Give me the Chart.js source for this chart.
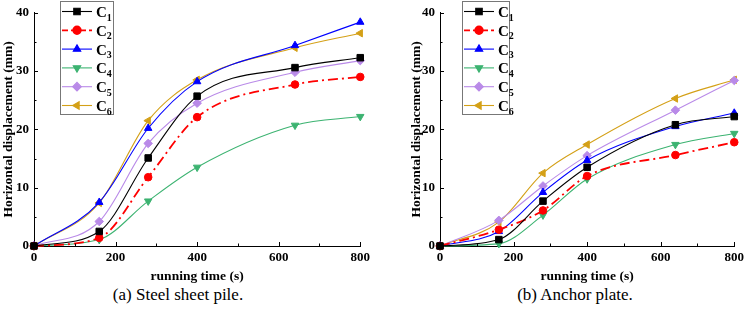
<!DOCTYPE html>
<html>
<head>
<meta charset="utf-8">
<script src="https://cdn.jsdelivr.net/npm/chart.js@4.4.0/dist/chart.umd.min.js"></script>
<style>
  body { margin: 0; background: #fff; width: 748px; height: 316px; position: relative; overflow: hidden; }
  .panel { position: absolute; top: 0; width: 374px; height: 284px; }
  .cap { position: absolute; top: 284px; font: 17px "Liberation Serif", serif; line-height: 22px; color: #000; white-space: nowrap; transform: translateX(-50%); }
</style>
</head>
<body>
<div class="panel" style="left:0"><canvas id="chartA" width="374" height="284"></canvas></div>
<div class="panel" style="left:374px"><canvas id="chartB" width="374" height="284"></canvas></div>
<div class="cap" style="left:178px">(a) Steel sheet pile.</div>
<div class="cap" style="left:575px">(b) Anchor plate.</div>
<script>
// running time (s)
const times = [0, 160, 280, 400, 640, 800];
const seriesNames = ["1", "2", "3", "4", "5", "6"];
const xTicks = [0, 200, 400, 600, 800];
const yTicks = [0, 10, 20, 30, 40];

// (a) steel sheet pile, horizontal displacement (mm)
const steelC1 = [0, 2.5, 15.1, 25.7, 30.6, 32.3];
const steelC2 = [0, 1.4, 11.8, 22.1, 27.7, 29.0];
const steelC3 = [0, 7.5, 20.2, 28.2, 34.4, 38.4];
const steelC4 = [0, 1.1, 7.7, 13.5, 20.7, 22.2];
const steelC5 = [0, 4.2, 17.6, 24.5, 29.8, 31.8];
const steelC6 = [0, 7.4, 21.5, 28.5, 34.0, 36.5];

// (b) anchor plate
const anchorC1 = [0, 1.1, 7.7, 13.5, 20.8, 22.2];
const anchorC2 = [0, 2.8, 6.1, 12.0, 15.6, 17.8];
const anchorC3 = [0, 2.5, 9.2, 14.7, 20.5, 22.8];
const anchorC4 = [0, 0.4, 5.3, 11.5, 17.4, 19.3];
const anchorC5 = [0, 4.4, 10.3, 15.5, 23.3, 28.4];
const anchorC6 = [0, 4.1, 12.5, 17.4, 25.3, 28.5];

const colors = ["#000000", "#ff0000", "#0000ff", "#3cb371", "#b98ae8", "#d4a017"];
const markers = ["rect", "circle", "triangle", "triangle", "rectRot", "triangle"];
const markerRot = [0, 0, 0, 180, 0, -90];
const markerSize = [4.6, 3.8, 4.3, 4.3, 4.3, 4.3];

const serif = "'Liberation Serif', 'Times New Roman', serif";

function makeSets(arrs) {
  return arrs.map((vals, i) => ({
    label: "C" + seriesNames[i],
    data: vals.map((v, j) => ({ x: times[j], y: v })),
    borderColor: colors[i],
    backgroundColor: colors[i],
    borderWidth: i === 1 ? 1.8 : 1.1,
    borderDash: i === 1 ? [10, 4, 2, 4] : [],
    pointStyle: markers[i],
    rotation: markerRot[i],
    pointRadius: markerSize[i],
    pointBorderWidth: 1,
    cubicInterpolationMode: "monotone",
    clip: false
  }));
}

// ticks pointing inward, with minor ticks between
const innerTicks = {
  id: "innerTicks",
  afterDraw(chart) {
    const ctx = chart.ctx;
    const xs = chart.scales.x, ys = chart.scales.y;
    ctx.save();
    ctx.strokeStyle = "#000";
    ctx.lineWidth = 1;
    ctx.beginPath();
    for (let i = 0; i < xTicks.length; i++) {
      const px = Math.round(xs.getPixelForValue(xTicks[i])) + 0.5;
      ctx.moveTo(px, ys.bottom); ctx.lineTo(px, ys.bottom - 4);
      if (i < xTicks.length - 1) {
        const pm = Math.round(xs.getPixelForValue((xTicks[i] + xTicks[i + 1]) / 2)) + 0.5;
        ctx.moveTo(pm, ys.bottom); ctx.lineTo(pm, ys.bottom - 2.5);
      }
    }
    for (let i = 0; i < yTicks.length; i++) {
      const py = Math.round(ys.getPixelForValue(yTicks[i])) + 0.5;
      ctx.moveTo(xs.left, py); ctx.lineTo(xs.left + 4, py);
      if (i < yTicks.length - 1) {
        const pm = Math.round(ys.getPixelForValue((yTicks[i] + yTicks[i + 1]) / 2)) + 0.5;
        ctx.moveTo(xs.left, pm); ctx.lineTo(xs.left + 2.5, pm);
      }
    }
    ctx.stroke();
    ctx.restore();
  }
};

// framed legend with line + marker + subscripted name
const boxLegend = {
  id: "boxLegend",
  afterDraw(chart, args, opts) {
    const ctx = chart.ctx;
    ctx.save();
    ctx.strokeStyle = "#777";
    ctx.lineWidth = 1;
    ctx.strokeRect(opts.x + 0.5, opts.y + 0.5, opts.w, opts.h);
    chart.data.datasets.forEach((ds, i) => {
      const y = opts.y + 10.5 + i * 18.8;
      ctx.strokeStyle = ds.borderColor;
      ctx.lineWidth = ds.borderWidth;
      ctx.setLineDash(i === 1 ? [6, 3] : []);
      ctx.beginPath();
      ctx.moveTo(opts.x + 2, y); ctx.lineTo(opts.x + 32, y);
      ctx.stroke();
      ctx.setLineDash([]);
      ctx.fillStyle = ds.backgroundColor;
      Chart.helpers.drawPoint(ctx, {
        pointStyle: ds.pointStyle, rotation: ds.rotation,
        radius: ds.pointRadius, borderWidth: 1
      }, opts.x + 17, y);
      ctx.fillStyle = "#000";
      ctx.textBaseline = "alphabetic";
      ctx.font = "bold 15px " + serif;
      ctx.fillText("C", opts.x + 36, y + 5.5);
      const cw = ctx.measureText("C").width;
      ctx.font = "bold 10px " + serif;
      ctx.fillText(seriesNames[i], opts.x + 36 + cw, y + 9);
    });
    ctx.restore();
  }
};

function makeChart(id, arrs, padLeft, yWidth, plotW, legendX, legendW) {
  return new Chart(document.getElementById(id), {
    type: "line",
    data: { datasets: makeSets(arrs) },
    options: {
      responsive: false,
      animation: false,
      layout: { padding: { left: padLeft, right: 374 - padLeft - yWidth - plotW, top: 6, bottom: 0 } },
      plugins: {
        legend: { display: false },
        tooltip: { enabled: false },
        boxLegend: { x: legendX, y: 1, w: legendW, h: 113 }
      },
      scales: {
        x: {
          type: "linear", min: 0, max: 800,
          afterBuildTicks: s => { s.ticks = xTicks.map(v => ({ value: v })); },
          afterFit: s => { s.height = 38; },
          grid: { display: false, drawTicks: false },
          border: { display: true, color: "#000", width: 1 },
          ticks: { color: "#000", padding: 4, font: { family: serif, size: 13, weight: "bold" } },
          title: { display: true, text: "running time (s)", color: "#000", padding: { top: 0, bottom: -1 },
                   font: { family: serif, size: 13.5, weight: "bold" } }
        },
        y: {
          min: 0, max: 40,
          afterBuildTicks: s => { s.ticks = yTicks.map(v => ({ value: v })); },
          afterFit: s => { s.width = yWidth; },
          grid: { display: false, drawTicks: false },
          border: { display: true, color: "#000", width: 1 },
          ticks: { color: "#000", padding: 5, font: { family: serif, size: 13, weight: "bold" } },
          title: { display: true, text: "Horizontal displacement (mm)", color: "#000", padding: { top: 0, bottom: 0 },
                   font: { family: serif, size: 13.5, weight: "bold" } }
        }
      }
    },
    plugins: [innerTicks, boxLegend]
  });
}

makeChart("chartA", [steelC1, steelC2, steelC3, steelC4, steelC5, steelC6], 0, 34, 335, 60, 53);
makeChart("chartB", [anchorC1, anchorC2, anchorC3, anchorC4, anchorC5, anchorC6], 34, 32, 300, 88, 47);
</script>
</body>
</html>
